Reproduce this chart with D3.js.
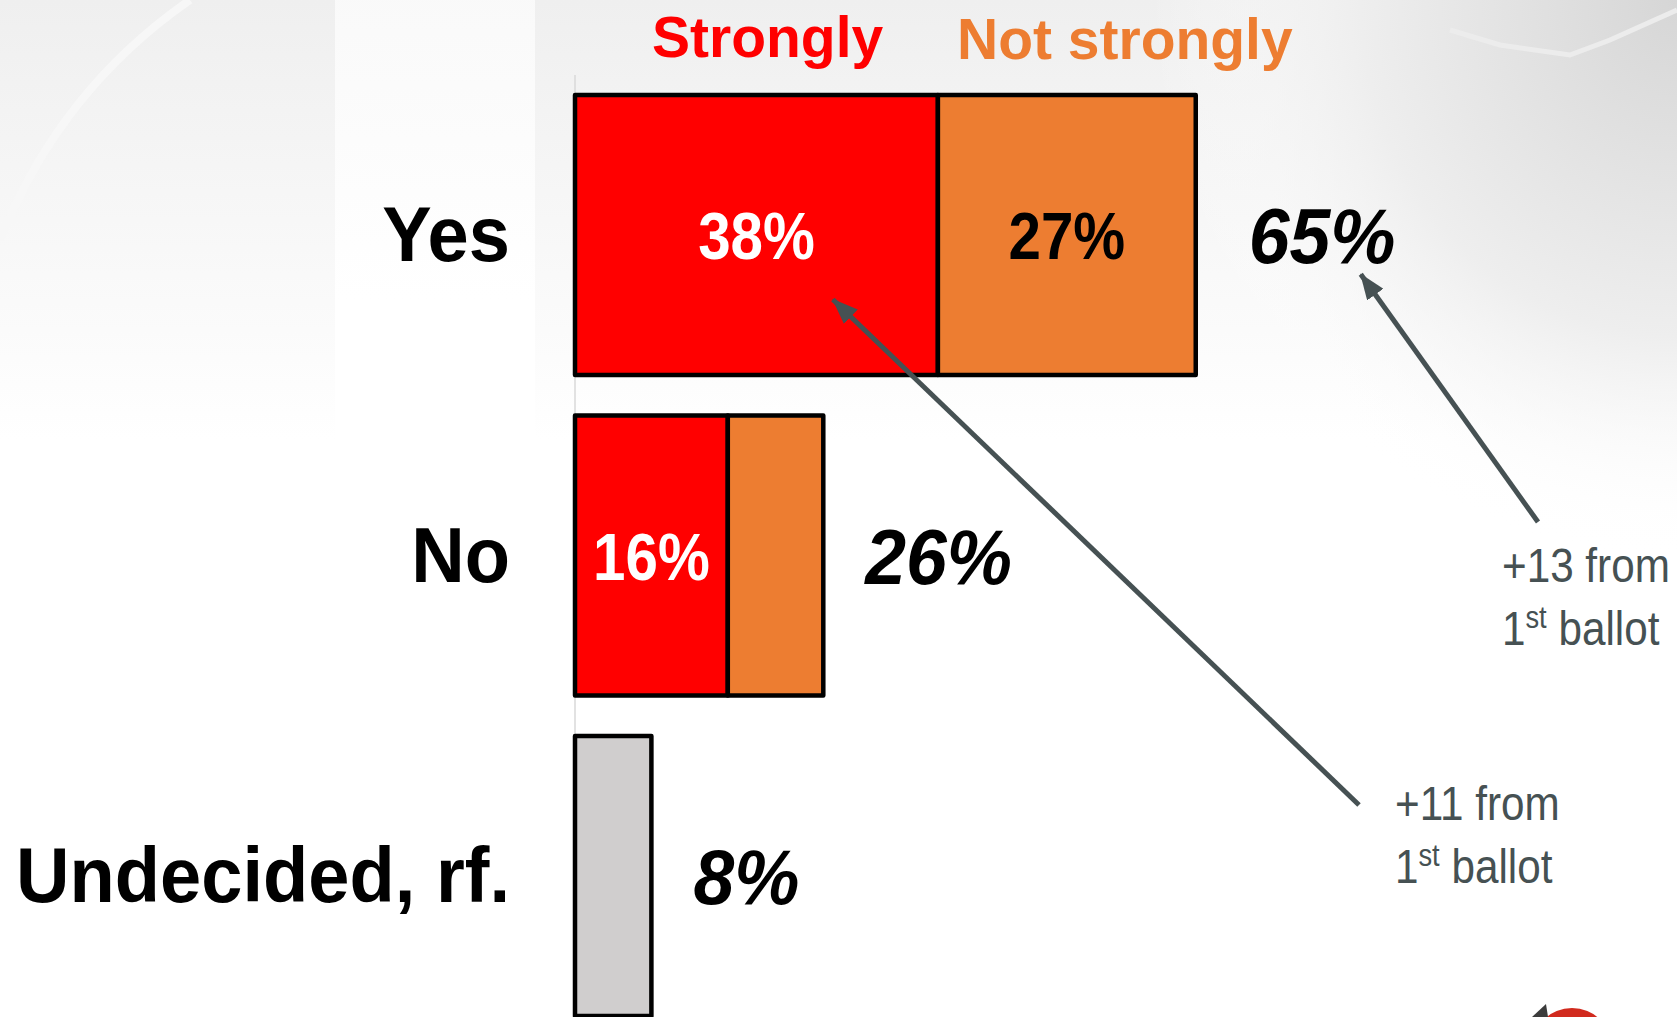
<!DOCTYPE html>
<html>
<head>
<meta charset="utf-8">
<script src="https://cdn.jsdelivr.net/npm/d3@7"></script>
<style>
  html, body { margin: 0; padding: 0; background: #fff; }
  svg { display: block; font-family: "Liberation Sans", Arial, sans-serif; }
</style>
</head>
<body>
<div id="chart"></div>
<script>
// datos
const categories = ["Yes", "No", "Undecided, rf."];
const strongly = [38, 16, 0];
const notStrongly = [27, 10, 0];
const undecided = [0, 0, 8];
const totals = [65, 26, 8];
const legendNames = ["Strongly", "Not strongly"];
const notes = [
  { line1: "+11 from", line2: "ballot" },
  { line1: "+13 from", line2: "ballot" },
];

const width = 1677;
const height = 1017;
const colors = { strongly: "#FF0000", notStrongly: "#ED7D31", undecided: "#D0CECE" };

const svg = d3
  .select("div#chart")
  .append("svg")
  .attr("width", width)
  .attr("height", height);

// Fondo (degradados suaves)
const defs = svg.append("defs");
const fade = defs.append("linearGradient").attr("id", "fade").attr("x1", 0).attr("y1", 0).attr("x2", 0).attr("y2", 1);
fade.append("stop").attr("offset", 0).attr("stop-color", "#efefef");
fade.append("stop").attr("offset", 1).attr("stop-color", "#ffffff");
const corner = defs.append("radialGradient").attr("id", "corner").attr("cx", 1).attr("cy", 0).attr("r", 1);
corner.append("stop").attr("offset", 0).attr("stop-color", "#d6d6d6");
corner.append("stop").attr("offset", 0.6).attr("stop-color", "#eeeeee");
corner.append("stop").attr("offset", 1).attr("stop-color", "#ffffff").attr("stop-opacity", 0);

const bg = svg.append("g").attr("id", "background");
bg.append("rect").attr("width", width).attr("height", height).attr("fill", "#fff");
bg.append("rect").attr("x", 0).attr("y", 0).attr("width", 335).attr("height", 440).attr("fill", "url(#fade)");
bg.append("rect").attr("x", 335).attr("y", 0).attr("width", 200).attr("height", 300).attr("fill", "url(#fade)").attr("opacity", 0.35);
bg.append("rect").attr("x", 535).attr("y", 0).attr("width", width - 535).attr("height", 440).attr("fill", "url(#fade)");
bg.append("rect").attr("x", 1150).attr("y", 0).attr("width", 527).attr("height", 560).attr("fill", "url(#corner)");
bg.append("path")
  .attr("d", "M0,240 Q60,90 190,0")
  .attr("fill", "none")
  .attr("stroke", "#f7f7f7")
  .attr("stroke-width", 8);
bg.append("path")
  .attr("d", "M1677,10 L1610,40 L1570,55 L1500,45 L1450,30")
  .attr("fill", "none")
  .attr("stroke", "#ececec")
  .attr("stroke-width", 5);
// logo en la esquina
bg.append("circle").attr("cx", 1572).attr("cy", 1048).attr("r", 40).attr("fill", "#d12a1e");
bg.append("path").attr("d", "M1532,1017 L1546,1004 L1548,1017 Z").attr("fill", "#3c3c3c");

// Escalas
const x = d3.scaleLinear().domain([0, 100]).range([575, 1530]);
const y = d3
  .scaleBand()
  .domain(categories)
  .range([95, 1016])
  .paddingInner(0.126)
  .paddingOuter(0);

// Eje vertical (línea gris clara)
svg.append("line")
  .attr("x1", x(0)).attr("x2", x(0))
  .attr("y1", 75).attr("y2", height)
  .attr("stroke", "#d9d9d9")
  .attr("stroke-width", 1.5);

// Segmentos apilados
const segments = [];
categories.forEach((c, i) => {
  let start = 0;
  [["strongly", strongly[i]], ["notStrongly", notStrongly[i]], ["undecided", undecided[i]]].forEach(([key, v]) => {
    if (v > 0) {
      segments.push({ cat: c, key: key, x0: start, x1: start + v, value: v });
      start += v;
    }
  });
});

const bars = svg.append("g").attr("class", "bars");
bars.selectAll("rect")
  .data(segments)
  .join("rect")
  .attr("x", (d) => x(d.x0))
  .attr("y", (d) => y(d.cat))
  .attr("width", (d) => x(d.x1) - x(d.x0))
  .attr("height", y.bandwidth())
  .attr("fill", (d) => colors[d.key])
  .attr("stroke", "#000")
  .attr("stroke-width", 4.5)
  .attr("stroke-linejoin", "round");

// texto "estrechado" como en el original
function condensed(sel, px, py, sx) {
  return sel.attr("transform", `translate(${px},${py}) scale(${sx},1)`);
}

// Etiquetas dentro de las barras
const inner = svg.append("g").attr("class", "inner-labels");
segments
  .filter((d) => d.value >= 15)
  .forEach((d) => {
    const t = inner.append("text")
      .text(d.value + "%")
      .attr("text-anchor", "middle")
      .attr("font-size", 67)
      .attr("font-weight", "bold")
      .attr("fill", d.key === "strongly" ? "#fff" : "#000");
    condensed(t, (x(d.x0) + x(d.x1)) / 2, y(d.cat) + y.bandwidth() / 2 + 24, 0.87);
  });

// Categorías
const catLabels = svg.append("g").attr("class", "cat-labels");
categories.forEach((c) => {
  const t = catLabels.append("text")
    .text(c)
    .attr("text-anchor", "end")
    .attr("font-size", 78)
    .attr("font-weight", "bold")
    .attr("fill", "#000");
  condensed(t, 510, y(c) + y.bandwidth() / 2 + 26, 0.95);
});

// Totales
const totalLabels = svg.append("g").attr("class", "totals");
categories.forEach((c, i) => {
  const gap = i === 0 ? 53 : 42;
  const t = totalLabels.append("text")
    .text(totals[i] + "%")
    .attr("font-size", 78)
    .attr("font-weight", "bold")
    .attr("font-style", "italic")
    .attr("fill", "#000");
  condensed(t, x(totals[i]) + gap, y(c) + y.bandwidth() / 2 + 28, 0.94);
});

// Leyenda
const legend = svg.append("g").attr("class", "legend");
legend.append("text").text(legendNames[0])
  .attr("x", 652).attr("y", 57)
  .attr("font-size", 57).attr("font-weight", "bold")
  .attr("fill", colors.strongly);
legend.append("text").text(legendNames[1])
  .attr("x", 957).attr("y", 59)
  .attr("font-size", 57).attr("font-weight", "bold")
  .attr("fill", colors.notStrongly);

// Flechas y notas
const noteColor = "#465153";
defs.append("marker")
  .attr("id", "arrow")
  .attr("markerUnits", "userSpaceOnUse")
  .attr("viewBox", "0 0 26 20")
  .attr("refX", 25).attr("refY", 10)
  .attr("markerWidth", 26).attr("markerHeight", 20)
  .attr("orient", "auto")
  .append("path")
  .attr("d", "M0,0 L26,10 L0,20 Z")
  .attr("fill", noteColor);

const bw = y.bandwidth();
const arrows = [
  { from: [1359, 805], to: [x(27), y("Yes") + bw * 0.73], tx: 1395, ty: 820 },
  { from: [1538, 522], to: [x(65) + 165, y("Yes") + bw * 0.64], tx: 1502, ty: 582 },
];

const ann = svg.append("g").attr("class", "annotations");
arrows.forEach((a, i) => {
  ann.append("line")
    .attr("x1", a.from[0]).attr("y1", a.from[1])
    .attr("x2", a.to[0]).attr("y2", a.to[1])
    .attr("stroke", noteColor)
    .attr("stroke-width", 5)
    .attr("marker-end", "url(#arrow)");

  const t1 = ann.append("text").text(notes[i].line1)
    .attr("font-size", 48).attr("fill", noteColor);
  condensed(t1, a.tx, a.ty, 0.88);

  const t2 = ann.append("text").attr("font-size", 48).attr("fill", noteColor);
  t2.append("tspan").text("1");
  t2.append("tspan").text("st").attr("font-size", 31).attr("dy", -17);
  t2.append("tspan").text(" " + notes[i].line2).attr("dy", 17);
  condensed(t2, a.tx, a.ty + 63, 0.88);
});
</script>
</body>
</html>
